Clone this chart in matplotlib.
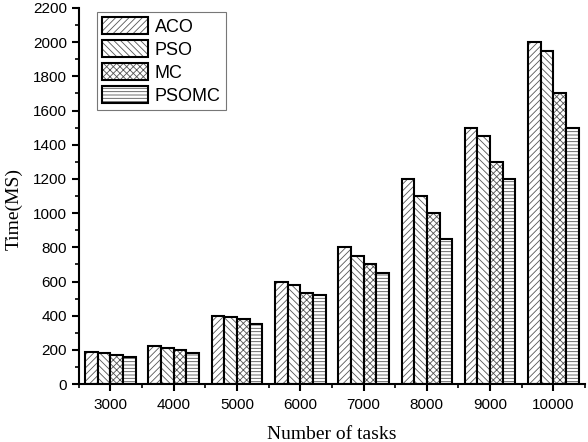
import matplotlib
matplotlib.use("Agg")
import matplotlib.pyplot as plt
import numpy as np
from matplotlib.patches import Patch
from matplotlib.ticker import MultipleLocator
from matplotlib.legend_handler import HandlerTuple

tasks = ["3000", "4000", "5000", "6000", "7000", "8000", "9000", "10000"]
aco = [190, 220, 400, 600, 800, 1200, 1500, 2000]
pso = [180, 210, 390, 580, 750, 1100, 1450, 1950]
mc = [170, 200, 380, 530, 700, 1000, 1300, 1700]
psomc = [160, 180, 350, 520, 650, 850, 1200, 1500]

series = [("ACO", aco, "/////"), ("PSO", pso, "\\\\\\\\\\"),
          ("MC", mc, "xxxxx"), ("PSOMC", psomc, "-----")]

plt.rcParams["hatch.linewidth"] = 0.6
sans = ["Liberation Sans", "DejaVu Sans"]
serif = ["Liberation Serif", "DejaVu Serif"]

fig = plt.figure(figsize=(5.88, 4.42), dpi=100)
ax = fig.add_axes([0.134, 0.131, 0.861, 0.851])

x = np.arange(len(tasks))
w = 0.2
leg_handles = []
for i, (name, vals, hatch) in enumerate(series):
    pos = x + (i - 1.5) * w
    # hatch layer in grey, outline on top in black
    ax.bar(pos, vals, w, color="white", edgecolor="#555555", hatch=hatch, linewidth=0)
    ax.bar(pos, vals, w, fill=False, edgecolor="black", linewidth=1.5)
    leg_handles.append((Patch(facecolor="white", edgecolor="#555555", hatch=hatch, linewidth=0),
                        Patch(fill=False, edgecolor="black", linewidth=1.5)))

ax.set_xlim(-0.5, len(tasks) - 0.5)
ax.set_ylim(0, 2200)
ax.set_xticks(x)
ax.set_xticklabels(tasks)
ax.set_xticks(np.arange(len(tasks) + 1) - 0.5, minor=True)
ax.yaxis.set_major_locator(MultipleLocator(200))
ax.yaxis.set_minor_locator(MultipleLocator(100))

for s in ["top", "right"]:
    ax.spines[s].set_visible(False)
for s in ["left", "bottom"]:
    ax.spines[s].set_linewidth(1.5)

ax.tick_params(which="major", direction="out", length=5, width=1.5, labelsize=11)
ax.tick_params(which="minor", direction="out", length=3, width=1.2)
ax.tick_params(axis="x", pad=5)
for lab in ax.get_xticklabels() + ax.get_yticklabels():
    lab.set_family(sans)

ax.set_xlabel("Number of tasks", family=serif, fontsize=14)
ax.set_ylabel("Time(MS)", family=serif, fontsize=14)
ax.xaxis.label.set_va("baseline")
ax.xaxis.set_label_coords(0.5, -0.146)
ax.yaxis.label.set_va("center")
ax.yaxis.set_label_coords(-0.127, 0.465)

leg = ax.legend(leg_handles, [s[0] for s in series], loc="upper left",
                bbox_to_anchor=(0.036, 0.99), prop={"family": sans, "size": 13},
                handlelength=2.5, handleheight=1.05, labelspacing=0.25,
                handletextpad=0.4, borderpad=0.3, borderaxespad=0, fancybox=False,
                handler_map={tuple: HandlerTuple(ndivide=1)})
leg.get_frame().set_edgecolor("#555555")
leg.get_frame().set_linewidth(0.8)

fig.savefig("out.png", dpi=100)
